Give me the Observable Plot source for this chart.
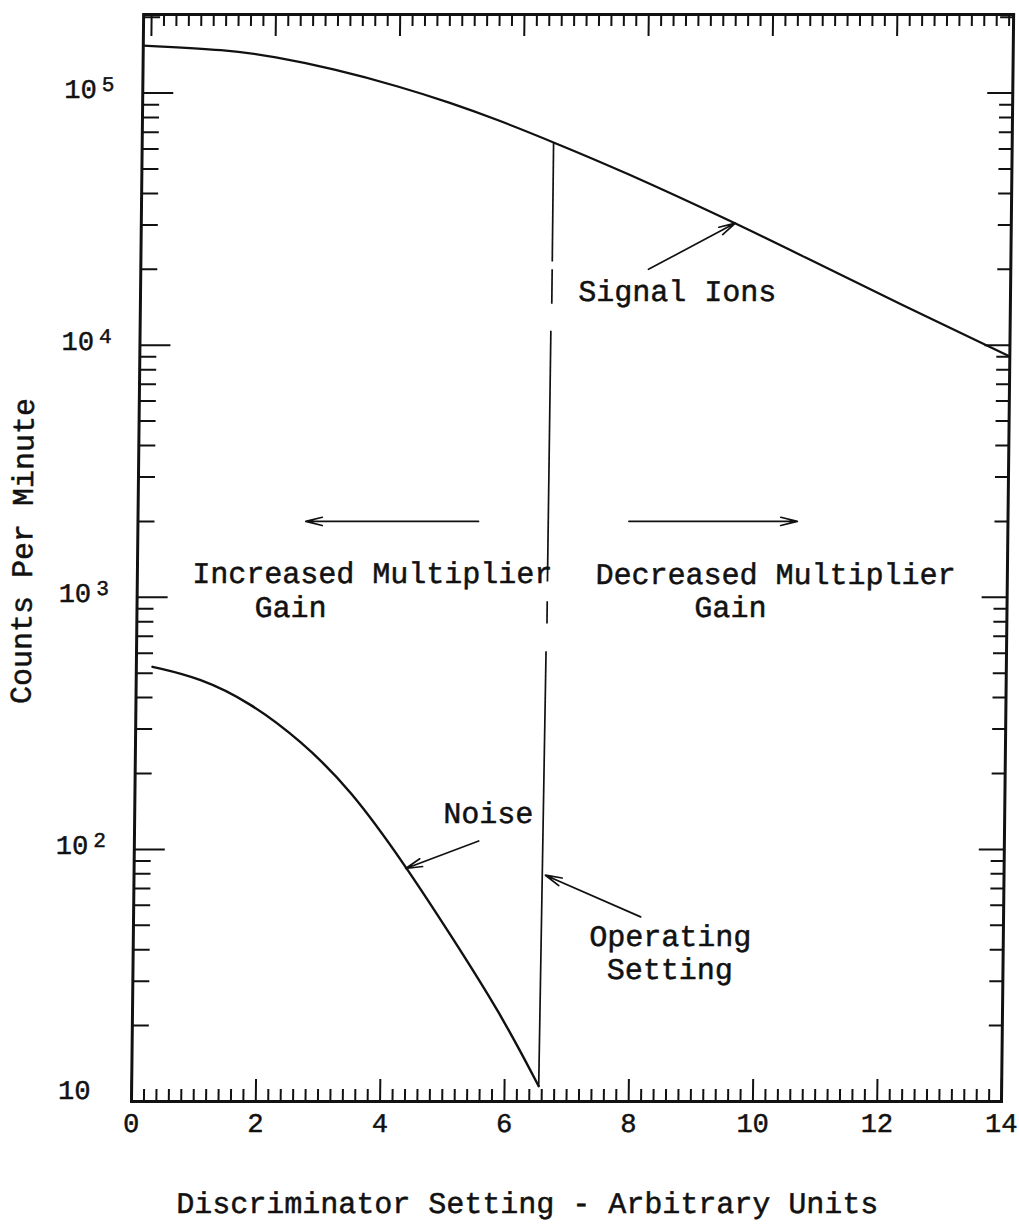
<!DOCTYPE html>
<html><head><meta charset="utf-8">
<script src="https://cdn.jsdelivr.net/npm/d3@7"></script>
<script src="https://cdn.jsdelivr.net/npm/@observablehq/plot@0.6"></script>
<style>
html,body{margin:0;padding:0;background:#fff;}
#chart{width:1019px;height:1226px;overflow:hidden;}
#chart svg{display:block;transform-origin:0 1101px;transform:skewX(-0.64deg);}
</style></head><body><div id="chart"></div>
<script>
// ---- data ----
const signalX = [0, 1.35, 2.10, 3.06, 4.15, 4.95, 5.71, 6.62, 7.70, 9.56, 10.61, 12.23, 14.0];
const signalY = [154200, 148600, 139600, 125000, 105900, 91600, 78500, 63800, 49500, 30500, 22800, 14550, 9020];

const noiseX = [0.26, 1.03, 1.84, 2.66, 3.47, 4.37, 5.10, 5.92, 6.55];
const noiseY = [530, 479, 382, 270, 173, 86, 46, 22.4, 11.5];

// operating-setting line (broken segments)
const opX1 = [6.62, 6.62, 6.61, 6.60, 6.59];
const opY1 = [63800, 20000, 11400, 964, 611];
const opX2 = [6.62, 6.62, 6.60, 6.60, 6.55];
const opY2 = [21500, 14600, 1156, 788, 11.5];

// annotation arrows
const arrowX1 = [8.17, 5.48, 7.90, 5.54, 8.16];
const arrowY1 = [20000, 2000, 2000, 108, 54];
const arrowX2 = [9.56, 2.70, 10.61, 4.37, 6.62];
const arrowY2 = [30500, 2000, 2000, 84, 79];

// annotation labels
const labelText = ["Signal Ions", "Increased Multiplier", "Gain", "Decreased Multiplier", "Gain", "Noise", "Operating", "Setting"];
const labelX = [8.64, 3.78, 2.47, 10.27, 9.55, 5.69, 8.64, 8.64];
const labelY = [16400, 1245, 912, 1233, 912, 139, 45.2, 33.3];

// axes
const xTickLabels = [0, 2, 4, 6, 8, 10, 12, 14];
const yTickValues = [10, 100, 1000, 10000, 100000];
const yTickExponents = ["", "2", "3", "4", "5"];
const xTitle = "Discriminator Setting - Arbitrary Units";
const yTitle = "Counts Per Minute";
const yTop = 205000;

// ---- build ----
const W = 1019, H = 1226, ML = 131, MR = 18, MT = 14, MB = 125;
const plotW = W - ML - MR, plotH = H - MT - MB;
const font = "'Liberation Mono', 'Courier New', monospace";
const ink = "#111";
const txt = {fontFamily: font, fill: ink, stroke: ink, strokeWidth: 0.5};

const signal = signalX.map((x, i) => ({x, y: signalY[i]}));
const noise = noiseX.map((x, i) => ({x, y: noiseY[i]}));
const opSegs = opX1.map((x, i) => ({x1: x, y1: opY1[i], x2: opX2[i], y2: opY2[i]}));
const arrows = arrowX1.map((x, i) => ({x1: x, y1: arrowY1[i], x2: arrowX2[i], y2: arrowY2[i]}));
const labels = labelText.map((t, i) => ({t, x: labelX[i], y: labelY[i]}));
const yLabels = yTickValues.map((v, i) => ({v, e: yTickExponents[i]}));

const yMinor = [];
for (const d of yTickValues) for (let m = 2; m <= 9; m++) if (d * m < yTop) yMinor.push(d * m);
const xAll = d3.range(0, 71).map(i => +(i * 0.2).toFixed(1));
const xMinor = xAll.filter(v => !xTickLabels.includes(v));

const chart = Plot.plot({
  width: W, height: H,
  marginLeft: ML, marginRight: MR, marginTop: MT, marginBottom: MB,
  style: {fontFamily: font, background: "#fff", color: ink},
  x: {domain: [0, 14], axis: null},
  y: {type: "log", domain: [10, yTop], axis: null},
  marks: [
    // inward ticks: left
    Plot.tickY(yMinor, {y: d => d, insetRight: plotW - 17, stroke: ink, strokeWidth: 2}),
    Plot.tickY(yTickValues, {y: d => d, insetRight: plotW - 31, stroke: ink, strokeWidth: 2}),
    // right
    Plot.tickY(yMinor, {y: d => d, insetLeft: plotW - 13, stroke: ink, strokeWidth: 2}),
    Plot.tickY(yTickValues, {y: d => d, insetLeft: plotW - 25, stroke: ink, strokeWidth: 2}),
    // bottom
    Plot.tickX(xMinor, {x: d => d, insetTop: plotH - 12, stroke: ink, strokeWidth: 2}),
    Plot.tickX(xTickLabels, {x: d => d, insetTop: plotH - 22, stroke: ink, strokeWidth: 2}),
    // top
    Plot.tickX(xMinor, {x: d => d, insetBottom: plotH - 12, dx: 8, stroke: ink, strokeWidth: 2}),
    Plot.tickX(xTickLabels, {x: d => d, insetBottom: plotH - 22, dx: 8, stroke: ink, strokeWidth: 2}),
    Plot.frame({stroke: ink, strokeWidth: 3}),

    // curves
    Plot.line(signal, {x: "x", y: "y", curve: "basis", stroke: ink, strokeWidth: 2.2}),
    Plot.line(noise, {x: "x", y: "y", curve: "basis", stroke: ink, strokeWidth: 2.4}),
    Plot.link(opSegs, {x1: "x1", y1: "y1", x2: "x2", y2: "y2", stroke: ink, strokeWidth: 1.7}),
    Plot.arrow(arrows, {x1: "x1", y1: "y1", x2: "x2", y2: "y2", stroke: ink, strokeWidth: 1.7, headLength: 15, headAngle: 28}),

    // annotations
    Plot.text(labels, {x: "x", y: "y", text: "t", fontSize: 30, ...txt}),

    // x tick labels
    Plot.text(xTickLabels, {x: d => d, frameAnchor: "bottom", lineAnchor: "middle", dy: 22, text: d => String(d), fontSize: 27, ...txt}),
    // y tick labels
    Plot.text(yLabels.filter(d => d.e !== ""), {y: "v", frameAnchor: "left", lineAnchor: "middle", dx: -46, dy: -4, textAnchor: "end", text: () => "10", fontSize: 27, ...txt}),
    Plot.text(yLabels.filter(d => d.e !== ""), {y: "v", frameAnchor: "left", lineAnchor: "middle", dx: -41, dy: -9, textAnchor: "start", text: "e", fontSize: 21, ...txt}),
    Plot.text(yLabels.filter(d => d.e === ""), {y: "v", frameAnchor: "left", lineAnchor: "middle", dx: -41, dy: -11, textAnchor: "end", text: () => "10", fontSize: 27, ...txt}),

    // axis titles
    Plot.text([xTitle], {frameAnchor: "bottom", lineAnchor: "middle", textAnchor: "middle", dx: -38, dy: 102, text: d => d, fontSize: 30, ...txt}),
    Plot.text([yTitle], {frameAnchor: "left", lineAnchor: "middle", textAnchor: "middle", dx: -115, dy: -7, rotate: -90, text: d => d, fontSize: 30, ...txt})
  ]
});
document.getElementById("chart").appendChild(chart);
</script></body></html>
